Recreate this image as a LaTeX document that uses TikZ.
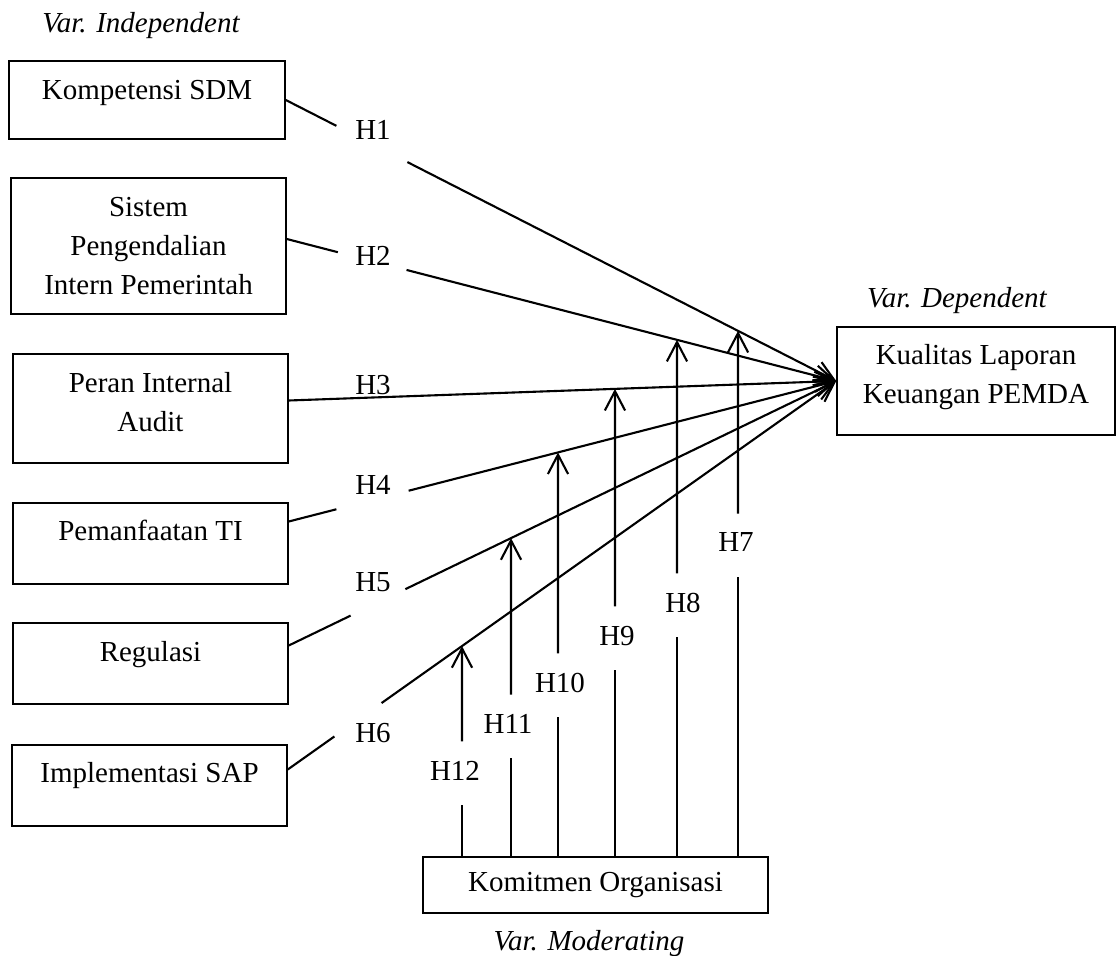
\documentclass[tikz,border=0pt]{standalone}
\usepackage{fontspec}
\setmainfont{Liberation Serif}
\usetikzlibrary{calc,arrows.meta}
\newcommand\figfont{\fontsize{16.5}{22}\selectfont}
\newcommand\droptext[1]{\rule[-#1]{0pt}{#1}}

\begin{document}
\begin{tikzpicture}[x=0.02cm, y=-0.02cm, font=\figfont,
        var/.style={draw, line width=0.9pt, align=center, inner sep=0pt},
        hyp/.style={inner sep=0pt, anchor=base},
        modhyp/.style={inner xsep=0pt, inner ysep=10.8pt, text depth=3.4pt, anchor=base},
        note/.style={inner sep=0pt, anchor=base, font=\figfont\itshape},
        link/.style={line width=1.2pt},
        linkarrow/.style={line width=1.2pt, -{Straight Barb[length=11pt, width=11.5pt]}}]
        \useasboundingbox (0,0) rectangle (1117,956);

        \node[var, minimum width=5.52cm, minimum height=1.56cm] (sdm)  at (147,100)   {Kompetensi SDM\droptext{11.4pt}};
        \node[var, minimum width=5.5cm,  minimum height=2.72cm] (spip) at (148.5,246) {Sistem\\Pengendalian\\Intern Pemerintah};
        \node[var, minimum width=5.5cm,  minimum height=2.18cm] (pia)  at (150.5,408.5) {Peran Internal\\Audit\droptext{7.4pt}};
        \node[var, minimum width=5.5cm,  minimum height=1.62cm] (pti)  at (150.5,543.5) {Pemanfaatan TI\droptext{14.7pt}};
        \node[var, minimum width=5.5cm,  minimum height=1.62cm] (reg)  at (150.5,663.5) {Regulasi\droptext{13.6pt}};
        \node[var, minimum width=5.5cm,  minimum height=1.62cm] (sap)  at (149.5,785.5) {Implementasi SAP\droptext{14.7pt}};
        \node[var, minimum width=5.56cm, minimum height=2.16cm] (klk)  at (976,381)   {Kualitas Laporan\\Keuangan PEMDA\droptext{8pt}};
        \node[var, minimum width=6.9cm,  minimum height=1.12cm] (kom)  at (595.5,885) {Komitmen Organisasi};

        \node[note] (vind) at (141,33)  {Var. Independent};
        \node[note] (vdep) at (957,308) {Var. Dependent};
        \node[note] (vmod) at (589,950) {Var. Moderating};

        \coordinate (t)  at (klk.west);
        \coordinate (s1) at (sdm.east);
        \coordinate (s2) at ($(spip.east)+(0,-7)$);
        \coordinate (s3) at ($(pia.east)+(0,-8)$);
        \coordinate (s4) at ($(pti.east)+(0,-22)$);
        \coordinate (s5) at ($(reg.east)+(0,-18)$);
        \coordinate (s6) at ($(sap.east)+(0,-16)$);

        \node[hyp] (h1) at (373,140) {H1};
        \draw[link] (s1) -- ($(s1)!0.092!(t)$);
        \draw[linkarrow] ($(s1)!0.221!(t)$) -- (t);
        \node[hyp] (h2) at (373,266) {H2};
        \draw[link] (s2) -- ($(s2)!0.093!(t)$);
        \draw[linkarrow] ($(s2)!0.218!(t)$) -- (t);
        \node[hyp] (h3) at (373,395) {H3};
        \draw[linkarrow] (s3) -- (t);
        \node[hyp] (h4) at (373,495) {H4};
        \draw[link] (s4) -- ($(s4)!0.087!(t)$);
        \draw[linkarrow] ($(s4)!0.219!(t)$) -- (t);
        \node[hyp] (h5) at (373,592) {H5};
        \draw[link] (s5) -- ($(s5)!0.113!(t)$);
        \draw[linkarrow] ($(s5)!0.213!(t)$) -- (t);
        \node[hyp] (h6) at (373,742) {H6};
        \draw[link] (s6) -- ($(s6)!0.085!(t)$);
        \draw[linkarrow] ($(s6)!0.171!(t)$) -- (t);

        \node[modhyp] (h12) at (455,780) {H12};
        \coordinate (b12) at (462,0 |- kom.north);
        \coordinate (c12) at (h12.north -| b12);
        \draw[link] (b12) -- (h12.south -| b12);
        \draw[linkarrow] (c12) -- (intersection of s6--t and b12--c12);
        \node[modhyp] (h11) at (508,733) {H11};
        \coordinate (b11) at (511,0 |- kom.north);
        \coordinate (c11) at (h11.north -| b11);
        \draw[link] (b11) -- (h11.south -| b11);
        \draw[linkarrow] (c11) -- (intersection of s5--t and b11--c11);
        \node[modhyp] (h10) at (560,692) {H10};
        \coordinate (b10) at (558,0 |- kom.north);
        \coordinate (c10) at (h10.north -| b10);
        \draw[link] (b10) -- (h10.south -| b10);
        \draw[linkarrow] (c10) -- (intersection of s4--t and b10--c10);
        \node[modhyp] (h9) at (617,645) {H9};
        \coordinate (b9) at (615,0 |- kom.north);
        \coordinate (c9) at (h9.north -| b9);
        \draw[link] (b9) -- (h9.south -| b9);
        \draw[linkarrow] (c9) -- (intersection of s3--t and b9--c9);
        \node[modhyp] (h8) at (683,612) {H8};
        \coordinate (b8) at (677,0 |- kom.north);
        \coordinate (c8) at (h8.north -| b8);
        \draw[link] (b8) -- (h8.south -| b8);
        \draw[linkarrow] (c8) -- (intersection of s2--t and b8--c8);
        \node[modhyp] (h7) at (736,552) {H7};
        \coordinate (b7) at (738,0 |- kom.north);
        \coordinate (c7) at (h7.north -| b7);
        \draw[link] (b7) -- (h7.south -| b7);
        \draw[linkarrow] (c7) -- (intersection of s1--t and b7--c7);
    \end{tikzpicture}
\end{document}
